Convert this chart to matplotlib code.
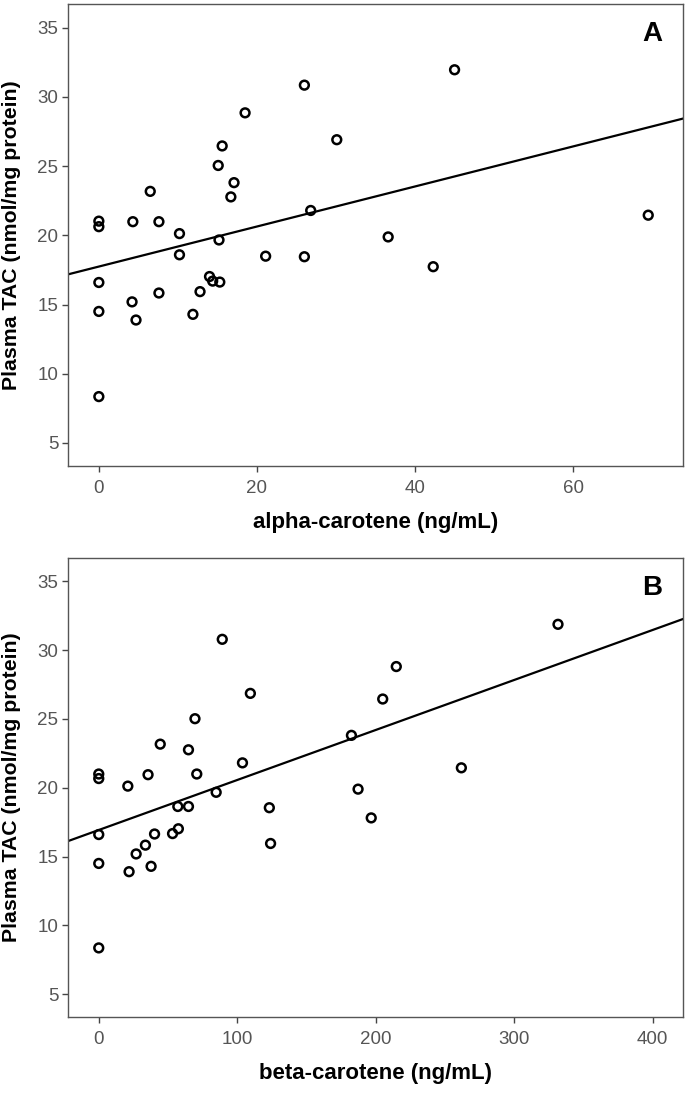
import numpy as np
import matplotlib
matplotlib.use("Agg")
import matplotlib.pyplot as plt

plt.rcParams['font.family'] = ['Liberation Sans', 'DejaVu Sans']

# Plasma TAC (nmol/mg protein), same subjects in both panels
alpha_x = [45.0, 26.0, 18.5, 30.1, 15.6, 15.1, 17.1, 6.5, 16.7, 26.8, 69.5,
           0.0, 0.0, 4.3, 7.6, 10.2, 36.6, 15.2, 10.2, 21.1, 26.0, 42.3,
           0.0, 14.0, 14.4, 15.3, 7.6, 12.8, 4.2, 0.0, 11.9, 4.7, 0.0]
alpha_y = [31.95, 30.84, 28.84, 26.9, 26.45, 25.04, 23.8, 23.17, 22.77, 21.79, 21.45,
           21.02, 20.62, 20.98, 20.98, 20.12, 19.88, 19.66, 18.59, 18.49, 18.45, 17.73,
           16.59, 17.02, 16.69, 16.62, 15.83, 15.93, 15.19, 14.5, 14.29, 13.88, 8.35]

beta_x = [331.7, 89.2, 214.9, 109.5, 205.1, 69.5, 182.5, 44.4, 64.8, 103.8, 261.9,
          0.0, 0.0, 35.6, 70.8, 21.0, 187.3, 84.8,
          57.1, 64.8, 123.2, 196.8, 0.0, 40.3, 53.3, 57.5, 33.7, 124.1, 27.0, 0.0,
          37.8, 21.9, 0.0]
beta_y = [31.88, 30.79, 28.81, 26.86, 26.45, 25.02, 23.81, 23.17, 22.76, 21.81, 21.45,
          21.0, 20.67, 20.95, 21.0, 20.12, 19.9, 19.67,
          18.64, 18.64, 18.55, 17.81, 16.6, 16.64, 16.67, 17.02, 15.83, 15.95, 15.19, 14.5,
          14.29, 13.9, 8.36]

# fit lines: (intercept, slope)
alpha_fit = (17.74, 0.1446)
beta_fit = (16.93, 0.03634)

yticks = [5, 10, 15, 20, 25, 30, 35]
alpha_ticks = [0, 20, 40, 60]
beta_ticks = [0, 100, 200, 300, 400]

panels = [
    dict(x=alpha_x, y=alpha_y, fit=alpha_fit, xlim=(-3.9, 73.9), xticks=alpha_ticks,
         xlabel="alpha-carotene (ng/mL)", letter="A", rect=[0.0993, 0.5802, 0.8978, 0.4162]),
    dict(x=beta_x, y=beta_y, fit=beta_fit, xlim=(-22.2, 422), xticks=beta_ticks,
         xlabel="beta-carotene (ng/mL)", letter="B", rect=[0.0993, 0.0838, 0.8978, 0.4135]),
]

fig = plt.figure(figsize=(6.85, 11.1), dpi=100, facecolor="w")

for p in panels:
    ax = fig.add_axes(p["rect"])
    ax.set_xlim(p["xlim"])
    ax.set_ylim(3.34, 36.7)
    ax.scatter(p["x"], p["y"], s=40, facecolors="none", edgecolors="black",
               linewidths=1.8, zorder=3)
    xs = np.array(p["xlim"])
    ax.plot(xs, p["fit"][0] + p["fit"][1] * xs, color="black", lw=1.6, zorder=2)

    for sp in ax.spines.values():
        sp.set_color("#555555")
        sp.set_linewidth(1.0)
    ax.set_xticks(p["xticks"])
    ax.set_yticks(yticks)
    ax.tick_params(axis="both", direction="out", length=4, width=1, color="#444444",
                   labelsize=13.5, labelcolor="#555555", pad=3)
    ax.tick_params(axis="x", pad=6)
    ax.set_xlabel(p["xlabel"], fontsize=16, fontweight="bold", labelpad=11)
    ax.set_ylabel("Plasma TAC (nmol/mg protein)", fontsize=15.3, fontweight="bold")
    ax.yaxis.set_label_coords(-0.077, 0.5)
    ax.text(0.95, 0.935, p["letter"], transform=ax.transAxes, fontsize=20,
            fontweight="bold", ha="center", va="center")

fig.savefig("out.png", dpi=100, facecolor="w")
